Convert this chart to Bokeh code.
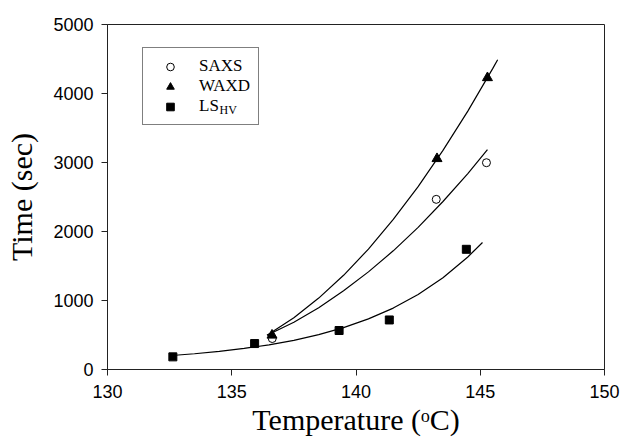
from bokeh.plotting import figure
from bokeh.models import Range1d, Legend, LegendItem, Label
from bokeh.embed import file_html
from bokeh.resources import INLINE

# --- data ---
saxs_t = [136.63, 143.23, 145.25]
saxs_y = [449, 2466, 2997]
waxd_t = [136.62, 143.26, 145.29]
waxd_y = [497, 3055, 4228]
ls_t = [132.63, 135.92, 139.32, 141.34, 144.44]
ls_y = [183, 376, 565, 718, 1742]

# fitted curves
saxs_fit_t = [136.42, 137.5, 138.5, 139.5, 140.5, 141.5, 142.5, 143.5, 144.5, 145.29]
saxs_fit_y = [497, 685, 895, 1140, 1415, 1720, 2060, 2435, 2840, 3185]
waxd_fit_t = [136.42, 137.5, 138.5, 139.5, 140.5, 141.5, 142.5, 143.5, 144.5, 145.5, 145.7]
waxd_fit_y = [497, 750, 1035, 1365, 1745, 2175, 2650, 3175, 3745, 4360, 4490]
ls_fit_t = [132.59, 133.5, 134.5, 135.5, 136.5, 137.5, 138.5, 139.5, 140.5, 141.5, 142.5, 143.5, 144.5, 145.09]
ls_fit_y = [203, 228, 262, 305, 358, 423, 505, 607, 733, 890, 1086, 1329, 1631, 1840]

x_ticks = [130, 135, 140, 145, 150]
y_ticks = [0, 1000, 2000, 3000, 4000, 5000]

p = figure(width=621, height=441, x_range=Range1d(130, 150), y_range=Range1d(0, 5000),
           output_backend="svg", toolbar_location=None,
           min_border_left=107, min_border_right=17, min_border_top=24, min_border_bottom=72)
p.background_fill_color = "white"
p.border_fill_color = "white"
p.outline_line_color = "#222222"
p.outline_line_width = 1
p.xgrid.visible = False
p.ygrid.visible = False

for ax in (p.xaxis, p.yaxis):
    ax.axis_line_color = "#222222"
    ax.major_tick_line_color = "#222222"
    ax.major_tick_out = 6
    ax.major_tick_in = 0
    ax.minor_tick_line_color = None
    ax.major_label_text_font = "Liberation Sans"
    ax.major_label_text_font_size = "18px"
    ax.major_label_text_color = "black"
    ax.axis_label_text_font = "Liberation Serif"
    ax.axis_label_text_font_size = "30px"
    ax.axis_label_text_font_style = "normal"
    ax.axis_label_text_color = "black"

p.xaxis.ticker = x_ticks
p.yaxis.ticker = y_ticks
p.xaxis.major_label_standoff = 9
p.yaxis.major_label_standoff = 8
p.xaxis.axis_label = "Temperature (\u1d52C)"
p.yaxis.axis_label = "Time (sec)"
p.xaxis.axis_label_standoff = 2
p.yaxis.axis_label_standoff = 12

p.line(saxs_fit_t, saxs_fit_y, line_color="black", line_width=1.2)
p.line(waxd_fit_t, waxd_fit_y, line_color="black", line_width=1.2)
p.line(ls_fit_t, ls_fit_y, line_color="black", line_width=1.2)

r_saxs = p.scatter(saxs_t, saxs_y, marker="circle", size=8, fill_color="white",
                   line_color="black", line_width=1)
r_waxd = p.scatter(waxd_t, waxd_y, marker="triangle", size=10, fill_color="black",
                   line_color="black")
r_ls = p.scatter(ls_t, ls_y, marker="square", size=8, fill_color="black", line_color="black")

legend = Legend(items=[LegendItem(label="SAXS", renderers=[r_saxs]),
                       LegendItem(label="WAXD", renderers=[r_waxd]),
                       LegendItem(label="LS", renderers=[r_ls])],
                location=(35, 244))
legend.border_line_color = "black"
legend.border_line_width = 1
legend.background_fill_alpha = 0
legend.label_text_font = "Liberation Serif"
legend.label_text_font_size = "17px"
legend.label_text_color = "black"
legend.glyph_width = 38
legend.glyph_height = 19
legend.label_height = 19
legend.label_standoff = 10
legend.spacing = 0
legend.padding = 8
legend.margin = 0
p.add_layout(legend, "center")

hv = Label(x=112, y=253, x_units="screen", y_units="screen", text="HV",
           text_font="Liberation Serif", text_font_size="12px", text_color="black")
p.add_layout(hv)

open("out.html", "w").write(file_html(p, INLINE))
